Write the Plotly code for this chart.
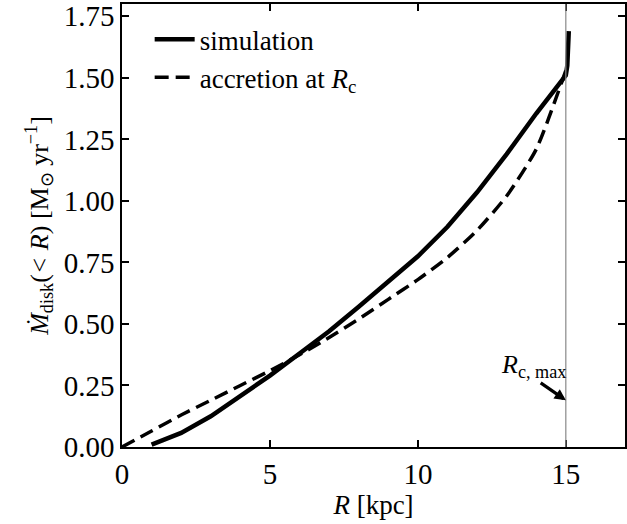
import plotly.graph_objects as go

# simulation: enclosed disk accretion rate vs radius
sim_r = [1, 2, 3, 4, 5, 6, 7, 8, 9, 10, 11, 12, 13, 14, 15, 15.05, 15.1]
sim_mdot = [0.01, 0.057, 0.125, 0.205, 0.29, 0.38, 0.47, 0.57, 0.67, 0.775, 0.895, 1.035,
            1.19, 1.355, 1.51, 1.55, 1.69]

# accretion at R_c
acc_r = [0, 1, 2, 3, 4, 5, 6, 7, 8, 9, 10, 11, 12, 13, 14, 15]
acc_mdot = [0.0, 0.065, 0.13, 0.19, 0.25, 0.31, 0.375, 0.445, 0.52, 0.60, 0.68,
            0.77, 0.88, 1.02, 1.21, 1.53]

r_c_max = 15

FONT = "Liberation Serif"

fig = go.Figure()
fig.add_trace(go.Scatter(x=sim_r, y=sim_mdot, mode="lines", name="simulation",
                         line=dict(color="black", width=4.5)))
fig.add_trace(go.Scatter(x=acc_r, y=acc_mdot, mode="lines", name="accretion at <i>R</i><sub>c</sub>",
                         line=dict(color="black", width=3.5, dash="14px,7px", shape="spline",
                                   smoothing=0.6)))

fig.add_vline(x=r_c_max, line=dict(color="#888888", width=1.2))

# R_c,max arrow
fig.add_annotation(x=15, y=0.19, ax=14.1, ay=0.265, xref="x", yref="y", axref="x", ayref="y",
                   text="", showarrow=True, arrowhead=2, arrowsize=0.7, arrowwidth=3.2,
                   arrowcolor="black")
fig.add_annotation(x=13.9, y=0.33, xref="x", yref="y", text="<i>R</i><sub>c, max</sub>",
                   showarrow=False, font=dict(family=FONT, size=26, color="black"))

axis_common = dict(showline=True, linecolor="black", linewidth=1.5, mirror="ticks",
                   ticks="inside", ticklen=7, tickwidth=1.5, tickcolor="black",
                   showgrid=False, zeroline=False, automargin=False,
                   tickfont=dict(family=FONT, size=29, color="black"))

fig.update_layout(
    width=627, height=524,
    paper_bgcolor="white", plot_bgcolor="white",
    margin=dict(l=122, r=2, t=4, b=77),
    font=dict(family=FONT, size=27, color="black"),
    xaxis=dict(range=[0, 17], tickvals=[0, 5, 10, 15],
               title=dict(text="<i>R</i> [kpc]", standoff=4, font=dict(size=27)),
               **axis_common),
    yaxis=dict(range=[0, 1.8], tickvals=[0, 0.25, 0.5, 0.75, 1.0, 1.25, 1.5, 1.75],
               tickformat=".2f",
               title=dict(text="<i>Ṁ</i><sub>disk</sub>(<i><</i> <i>R</i>) [M<sub>⊙</sub> yr<sup>−1</sup>]",
                          standoff=8, font=dict(size=26)),
               **axis_common),
    legend=dict(x=0.055, y=0.975, xanchor="left", yanchor="top", bgcolor="rgba(0,0,0,0)",
                font=dict(family=FONT, size=27), tracegroupgap=0, itemwidth=40),
    showlegend=True,
)

fig.write_html("out.html", config={"displayModeBar": False},
               post_script="document.body.style.margin='0';")
